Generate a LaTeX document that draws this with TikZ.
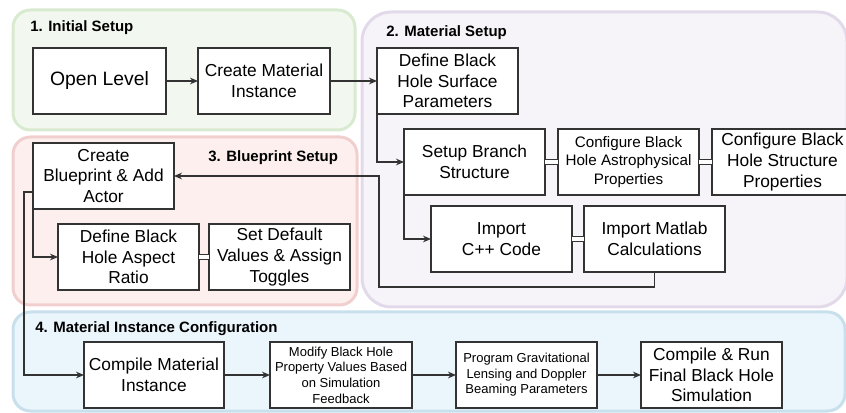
\documentclass[tikz,border=0pt]{standalone}
\usepackage{fontspec}
\setmainfont{Liberation Sans}
\usetikzlibrary{arrows.meta, positioning, calc}
\definecolor{init-fill}{HTML}{F2F8EF}
\definecolor{init-line}{HTML}{D8EAD0}
\definecolor{mat-fill}{HTML}{F6F4F9}
\definecolor{mat-line}{HTML}{E2DAEA}
\definecolor{bp-fill}{HTML}{FCEFEE}
\definecolor{bp-line}{HTML}{F1CFCF}
\definecolor{conf-fill}{HTML}{EBF5FC}
\definecolor{conf-line}{HTML}{C8E0EC}
\definecolor{edge-gray}{HTML}{333333}

\begin{document}
\begin{tikzpicture}[x=0.75pt, y=-0.75pt,
    group/.style={line width=2.25pt, rounded corners=13pt},
    stepbox/.style={rectangle, draw=edge-gray, line width=1pt, fill=white, minimum width=105.75pt, minimum height=49.5pt, align=center, inner sep=1pt, outer sep=0pt, font=\fontsize{13}{15.6}\selectfont},
    smallbox/.style={stepbox, font=\fontsize{11.4}{13.7}\selectfont},
    tinybox/.style={stepbox, font=\fontsize{9.75}{11.7}\selectfont},
    title/.style={anchor=west, inner sep=0pt, font=\bfseries\fontsize{11.25}{13}\selectfont},
    arr/.style={draw=edge-gray, line width=0.9pt, -{Stealth[length=6pt,width=5pt]}},
    link/.style={draw=edge-gray, line width=0.8pt, double=white, double distance=2.6pt},
]
\useasboundingbox (0,0) rectangle (846,413);
\clip (0,0) rectangle (846,413);

% Groups
\draw[group, draw=init-line, fill=init-fill] (13,10) rectangle (355,130);
\draw[group, draw=mat-line, fill=mat-fill, rounded corners=22pt] (362,12) rectangle (847,307);
\draw[group, draw=bp-line, fill=bp-fill] (13,137) rectangle (357,305);
\draw[group, draw=conf-line, fill=conf-fill] (13,312) rectangle (845,411);

% Group titles
\node[title] (initTitle) at (30,28) {1. Initial Setup};
\node[title] (matTitle) at (386,33) {2. Material Setup};
\node[title] (bpTitle) at (208,158) {3. Blueprint Setup};
\node[title] (confTitle) at (35,329) {4. Material Instance Configuration};

% 1. Initial setup
\node[stepbox, minimum width=99.75pt, font=\fontsize{14.5}{17}\selectfont] (open) at (99.5,81) {Open Level};
\node[stepbox, minimum width=99pt, right=24pt of open] (cmi) {Create Material\\Instance};

% 2. Material setup
\node[stepbox, right=35.25pt of cmi] (surface) {Define Black\\Hole Surface\\Parameters};
\node[stepbox, below=11.25pt of surface, xshift=20.25pt] (branch) {Setup Branch\\Structure};
\node[smallbox, right=9.75pt of branch] (astro) {Configure Black\\Hole Astrophysical\\Properties};
\node[stepbox, right=9.75pt of astro] (structure) {Configure Black\\Hole Structure\\Properties};
\node[stepbox, below=8.25pt of branch, xshift=20.25pt] (cpp) {Import\\C++ Code};
\node[stepbox, right=9pt of cpp] (matlab) {Import Matlab\\Calculations};

% 3. Blueprint setup
\node[stepbox] (blueprint) at (103.5,176) {Create\\Blueprint \& Add\\Actor};
\node[stepbox, below=11.25pt of blueprint, xshift=18.75pt] (aspect) {Define Black\\Hole Aspect\\Ratio};
\node[stepbox, right=7.5pt of aspect] (defaults) {Set Default\\Values \& Assign\\Toggles};

% 4. Material instance configuration
\node[stepbox, minimum width=105pt] (compile) at (154,375) {Compile Material\\Instance};
\node[tinybox, minimum width=106.5pt, right=34.5pt of compile] (modify) {Modify Black Hole\\Property Values Based\\on Simulation\\Feedback};
\node[tinybox, right=33pt of modify] (gravity) {Program Gravitational\\Lensing and Doppler\\Beaming Parameters};
\node[stepbox, right=33pt of gravity] (final) {Compile \& Run\\Final Black Hole\\Simulation};

% Connectors
\draw[arr] (open) -- (cmi);
\draw[arr] (cmi) -- (surface);
\draw[arr] (surface.south west) |- (branch.west);
\draw[link] (branch) -- (astro);
\draw[link] (astro) -- (structure);
\draw[arr] (branch.south west) |- (cpp.west);
\draw[link] (cpp) -- (matlab);
\coordinate (loopback) at (379,287);
\draw[arr] (matlab.south) |- (loopback) |- (blueprint.east);
\draw[arr] (blueprint.south west) |- (aspect.west);
\draw[link] (aspect) -- (defaults);
\coordinate (bpout) at ($(blueprint.west)+(0,16)$);
\draw[arr] (bpout) -- ++(-9,0) |- (compile.west);
\draw[arr] (compile) -- (modify);
\draw[arr] (modify) -- (gravity);
\draw[arr] (gravity) -- (final);

\end{tikzpicture}
\end{document}
